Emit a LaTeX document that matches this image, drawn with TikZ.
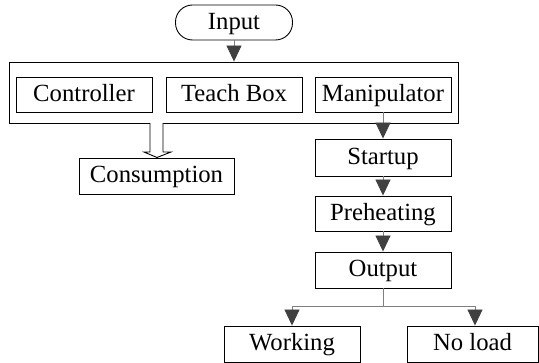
\documentclass[tikz,border=0pt]{standalone}
\usepackage{fontspec}
\setmainfont{Liberation Serif}
\usetikzlibrary{arrows.meta}
\definecolor{headgray}{HTML}{404040}
\definecolor{linegray}{HTML}{7F7F7F}
\begin{document}
\begin{tikzpicture}[x=1pt,y=-1pt,
  font=\fontsize{24.7}{28}\selectfont,
  box/.style={draw=black,line width=0.9pt,minimum height=36pt,inner sep=0pt,
    text height=17pt,text depth=3pt},
  wbox/.style={box,minimum width=136pt},
  flow/.style={draw=linegray,line width=0.9pt,
    -{Triangle[width=15pt,length=16pt,fill=headgray,color=headgray]}}]
\useasboundingbox (0,0) rectangle (539,363);
% start terminal
\node[box,minimum width=117pt,minimum height=35pt,rounded corners=17pt] (input) at (234,22.5) {Input};
% system block with its three parts
\node[draw=black,line width=0.9pt,minimum width=449pt,minimum height=61pt,inner sep=0pt] (sys) at (233.5,92.5) {};
\node[wbox,minimum height=35pt] (ctrl) at (84,94.5) {Controller};
\node[wbox,minimum height=35pt] (teach) at (234,94.5) {Teach Box};
\node[wbox,minimum height=35pt] (manip) at (383,94.5) {Manipulator};
% consumption
\node[box,minimum width=155pt] (cons) at (156.5,176) {Consumption};
% process chain
\node[wbox,minimum height=37pt] (start) at (383,157.5) {Startup};
\node[wbox,minimum height=35pt] (pre) at (383,213.5) {Preheating};
\node[wbox] (out) at (383,270) {Output};
\node[wbox] (work) at (292,344) {Working};
\node[box,minimum width=131pt] (noload) at (472.5,344) {No load};
% connectors
\draw[flow] (input.south) -- (sys.north -| input.south);
\draw[flow] (manip.south) -- (start.north);
\draw[flow] (start.south) -- (pre.north);
\draw[flow] (pre.south) -- (out.north);
\coordinate (split) at (383,306);
\coordinate (wl) at (292,306);
\coordinate (nr) at (475,306);
\draw[linegray,line width=0.9pt] (out.south) -- (split);
\draw[flow] (split) -- (wl) -- (wl |- work.north);
\draw[flow] (split) -- (nr) -- (nr |- noload.north);
% hollow arrow towards consumption
\draw[line width=0.9pt,fill=white]
  (150,123) -- (150,152) -- (144,152) -- (157,157.5) -- (171,152)
  -- (163,152) -- (163,123);
\end{tikzpicture}
\end{document}
